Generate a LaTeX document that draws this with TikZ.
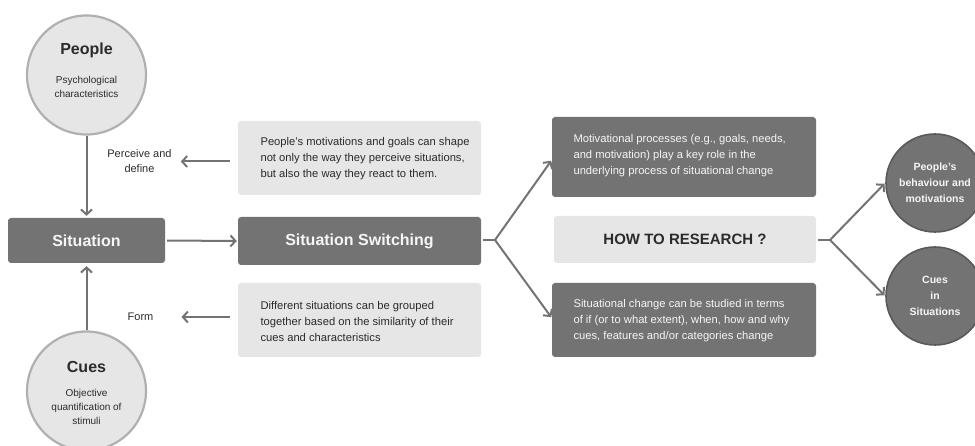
\documentclass[tikz,border=0pt]{standalone}
\usepackage{fontspec}
\setmainfont{Liberation Sans}
\usetikzlibrary{arrows.meta}

\definecolor{darkbox}{HTML}{737373}
\definecolor{lightbox}{HTML}{E6E6E6}
\definecolor{linegray}{HTML}{737373}
\definecolor{ringgray}{HTML}{B0B0B0}
\definecolor{darkring}{HTML}{5A5A5A}
\definecolor{inkdark}{HTML}{2B2B2B}
\definecolor{inklight}{HTML}{F6F6F6}

\tikzset{
  arr/.style={draw=linegray, line width=2pt,
    -{Straight Barb[length=5pt,width=11pt,line width=2pt]}},
  conn/.style={draw=linegray, line width=2pt},
  darkrect/.style={rectangle, rounded corners=3pt, fill=darkbox, draw=none,
    text=inklight, inner sep=0pt},
  lightrect/.style={rectangle, rounded corners=3pt, fill=lightbox, draw=none,
    text=inkdark, inner sep=0pt},
  bodytext/.style={font=\fontsize{11.2}{16}\selectfont, align=left},
  titletext/.style={font=\bfseries\fontsize{16}{19}\selectfont},
  lightcircle/.style={circle, fill=lightbox, draw=ringgray, line width=2.2pt,
    minimum size=119pt, inner sep=0pt},
  darkcircle/.style={circle, fill=darkbox, draw=darkring, line width=1.6pt,
    minimum size=98pt, inner sep=0pt},
  smalltext/.style={font=\fontsize{10}{14}\selectfont, align=center, text=inkdark},
  sidelabel/.style={font=\fontsize{11}{15}\selectfont, align=center,
    text=inkdark, inner sep=2pt},
}

\begin{document}
\begin{tikzpicture}[x=1pt, y=-1pt]
  \useasboundingbox (0,0) rectangle (975,446);

  % left column: people, situation, cues
  \node[lightcircle] (people) at (86.5,75) {};
  \node[titletext, text=inkdark] (peopleT) at (86.5,50) {People};
  \node[smalltext] (peopleS) at (86.5,87) {Psychological\\characteristics};

  \node[darkrect, minimum width=157pt, minimum height=45pt, titletext, text=inklight]
    (situation) at (86.5,240.5) {Situation};

  \node[lightcircle] (cues) at (86.5,391) {};
  \node[titletext, text=inkdark] (cuesT) at (86.5,367) {Cues};
  \node[smalltext] (cuesS) at (86.5,407) {Objective\\quantification of\\stimuli};

  % side labels
  \node[sidelabel] (perceive) at (139.5,161.5) {Perceive and\\define};
  \node[sidelabel] (form) at (140.5,317) {Form};

  % middle column
  \node[lightrect, minimum width=243pt, minimum height=74pt] (motiv) at (359.5,158) {};
  \node[bodytext, text=inkdark, anchor=west] (motivT) at (257,159)
    {People's motivations and goals can shape\\not only the way they perceive situations,\\but also the way they react to them.};

  \node[darkrect, minimum width=243pt, minimum height=48pt, titletext, text=inklight]
    (switch) at (359.5,241) {Situation Switching};

  \node[lightrect, minimum width=243pt, minimum height=74pt] (group) at (359.5,320) {};
  \node[bodytext, text=inkdark, anchor=west] (groupT) at (257,321)
    {Different situations can be grouped\\together based on the similarity of their\\cues and characteristics};

  % right column
  \node[darkrect, minimum width=264pt, minimum height=80pt] (mtop) at (684,157) {};
  \node[bodytext, text=inklight, anchor=west] (mtopT) at (570,155.5)
    {Motivational processes (e.g., goals, needs,\\and motivation) play a key role in the\\underlying process of situational change};

  \node[lightrect, minimum width=262pt, minimum height=47pt,
    font=\bfseries\fontsize{15}{18}\selectfont, text=inkdark]
    (how) at (685,239.5) {HOW TO RESEARCH ?};

  \node[darkrect, minimum width=264pt, minimum height=74pt] (mbot) at (684,320) {};
  \node[bodytext, text=inklight, anchor=west] (mbotT) at (570,320.5)
    {Situational change can be studied in terms\\of if (or to what extent), when, how and why\\cues, features and/or categories change};

  % outcome circles
  \node[darkcircle, font=\bfseries\fontsize{10.5}{16}\selectfont, text=inklight, align=center]
    (behav) at (935,183) {People's\\behaviour and\\motivations};
  \node[darkcircle, font=\bfseries\fontsize{10.5}{16}\selectfont, text=inklight, align=center]
    (cuesin) at (935,296) {Cues\\in\\Situations};

  % fork points
  \coordinate (fork1) at (495,240);
  \coordinate (fork2) at (830,240);

  % connectors
  \draw[arr, shorten >=2pt] (people) -- (situation);
  \draw[arr, shorten >=3pt] (cues) -- (situation);
  \draw[arr, shorten <=2pt, shorten >=1pt] (situation.east) -- (switch.west);
  \draw[arr, shorten <=8pt, shorten >=7pt] (perceive.east -| motiv.west) -- (perceive.east);
  \draw[arr, shorten <=8pt, shorten >=26pt] (form.east -| group.west) -- (form.east);

  \draw[conn, shorten <=2pt] (switch.east |- fork1) -- (fork1);
  \draw[arr, shorten >=1pt] (fork1) -- ([yshift=-3pt]mtop.west);
  \draw[arr, shorten >=1pt] (fork1) -- ([yshift=2pt]mbot.west);

  \draw[conn, shorten <=2pt] (how.east |- fork2) -- (fork2);
  \draw[arr, shorten >=1pt] (fork2) -- (behav.west);
  \draw[arr, shorten >=1pt] (fork2) -- (cuesin.west);
\end{tikzpicture}
\end{document}
